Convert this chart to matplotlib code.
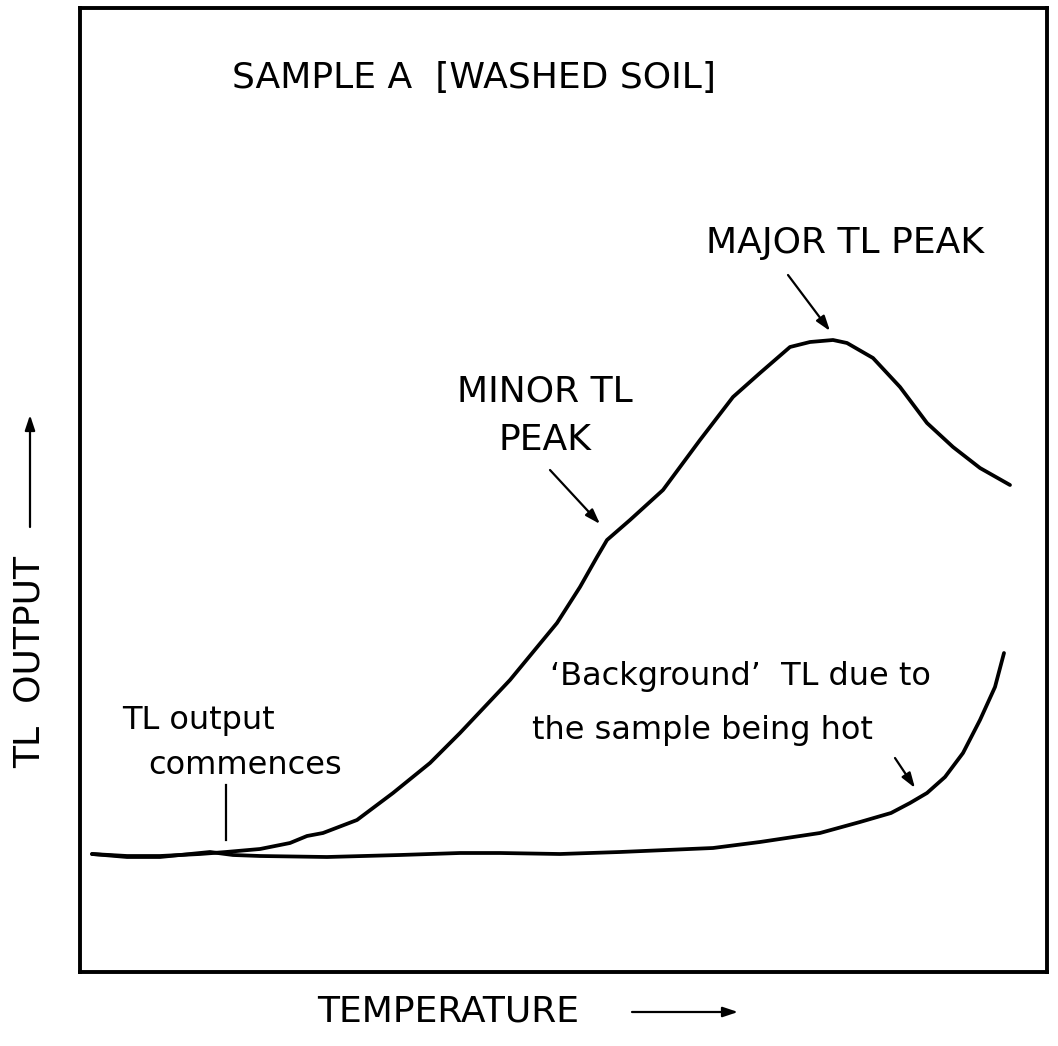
import matplotlib
matplotlib.use("Agg")
import matplotlib.pyplot as plt

# ---- data (arbitrary units) ----
tl_temp = [12, 47, 80, 120, 146, 180, 210, 227, 243, 277, 313, 350, 380, 430, 477, 500,
           517, 527, 550, 583, 620, 653, 680, 710, 730, 753, 767, 793, 820, 847, 873, 900, 930]
tl_output = [118, 116, 116, 118, 120, 123, 129, 136, 139, 152, 179, 209, 239, 292, 349, 385,
             415, 432, 452, 482, 532, 575, 599, 625, 630, 632, 629, 614, 585, 549, 525, 504, 487]

bg_temp = [12, 47, 80, 130, 153, 180, 247, 320, 380, 420, 480, 540, 633, 680, 740, 780,
           811, 830, 847, 865, 883, 900, 915, 924]
bg_output = [118, 115, 115, 120, 117, 116, 115, 117, 119, 119, 118, 120, 124, 130, 139, 150,
             159, 169, 179, 195, 219, 252, 285, 319]

title_text = "SAMPLE A  [WASHED SOIL]"
x_label = "TEMPERATURE"
y_label = "TL  OUTPUT"

W, H = 1058, 1046
fig = plt.figure(figsize=(W / 100, H / 100), dpi=100)
ax = fig.add_axes([80 / W, 1 - 972 / H, (1047 - 80) / W, (972 - 8) / H])
ax.set_xlim(0, 967)
ax.set_ylim(0, 964)
ax.set_xticks([])
ax.set_yticks([])
for s in ax.spines.values():
    s.set_linewidth(2.8)
    s.set_color("black")

lw = 2.7
ax.plot(tl_temp, tl_output, color="black", lw=lw, solid_joinstyle="round", solid_capstyle="round")
ax.plot(bg_temp, bg_output, color="black", lw=lw, solid_joinstyle="round", solid_capstyle="round")

fs_caps = 26
fs_low = 23
ax.text(152, 894, title_text, fontsize=fs_caps, ha="left", va="center")
ax.text(626, 729, "MAJOR TL PEAK", fontsize=fs_caps, ha="left", va="center")
ax.text(465, 580, "MINOR TL", fontsize=fs_caps, ha="center", va="center")
ax.text(465, 532, "PEAK", fontsize=fs_caps, ha="center", va="center")
ax.text(42, 252, "TL output", fontsize=fs_low, ha="left", va="center")
ax.text(68, 207, "commences", fontsize=fs_low, ha="left", va="center")
ax.text(470, 296, "\u2018Background\u2019  TL due to", fontsize=fs_low, ha="left", va="center")
ax.text(452, 242, "the sample being hot", fontsize=fs_low, ha="left", va="center")

arrow_kw = dict(arrowstyle="-|>,head_length=0.9,head_width=0.3", color="black", lw=1.6,
                shrinkA=0, shrinkB=0)
ax.annotate("", xy=(750, 641), xytext=(708, 697), arrowprops=arrow_kw)
ax.annotate("", xy=(520, 448), xytext=(470, 502), arrowprops=arrow_kw)
ax.annotate("", xy=(835, 184), xytext=(815, 214), arrowprops=arrow_kw)
ax.plot([146, 146], [187, 132], color="black", lw=1.6)

# axis labels with arrows (outside the box)
fig.text(30 / W, 384 / H, y_label, rotation=90, fontsize=fs_caps, ha="center", va="center")
fig.text(448 / W, 34 / H, x_label, fontsize=fs_caps, ha="center", va="center")
fig_arrow = dict(arrowstyle="-|>,head_length=0.9,head_width=0.3", color="black", lw=1.6,
                 shrinkA=0, shrinkB=0)
ax.annotate("", xy=(30, 631), xytext=(30, 519), xycoords="figure pixels",
            textcoords="figure pixels", arrowprops=fig_arrow, annotation_clip=False)
ax.annotate("", xy=(738, 34), xytext=(632, 34), xycoords="figure pixels",
            textcoords="figure pixels", arrowprops=fig_arrow, annotation_clip=False)

fig.savefig("out.png", dpi=100, facecolor="white")
